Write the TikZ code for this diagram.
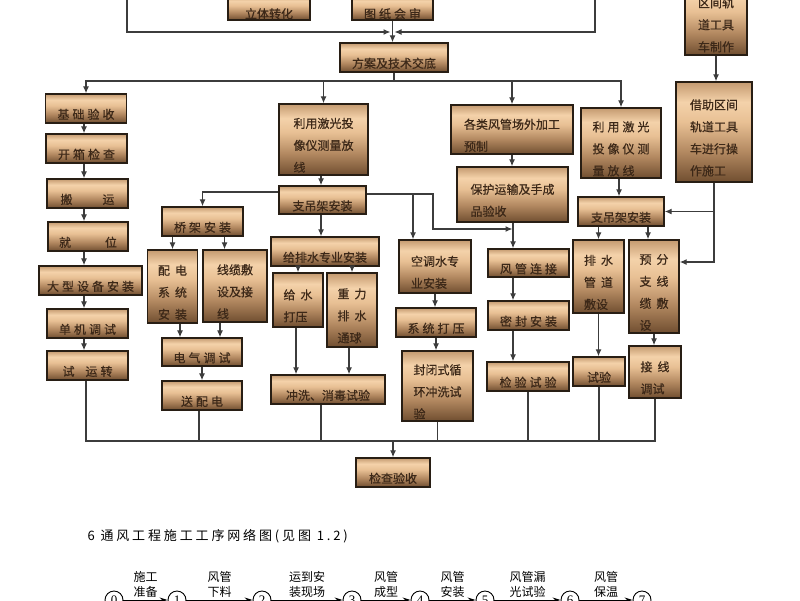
\documentclass[tikz,border=0pt]{standalone}
\usepackage{fontspec}
\setmainfont{Noto Sans CJK SC}
\newfontfamily\boxf{Noto Sans CJK SC}[FakeBold=0.6]
\newfontfamily\wide{Noto Sans CJK SC}[LetterSpace=25,FakeBold=0.6]
\newfontfamily\widet{Noto Sans CJK SC}[LetterSpace=22]
\newfontfamily\digit{Liberation Serif}
\usetikzlibrary{arrows.meta}
\definecolor{Bd}{RGB}{112, 78, 48}
\definecolor{Bm}{RGB}{178, 136, 96}
\definecolor{Bl}{RGB}{232, 192, 148}
\definecolor{Bw}{RGB}{244, 210, 170}
\definecolor{Bt}{RGB}{196, 154, 112}
\definecolor{Bk}{RGB}{40, 30, 20}
\definecolor{Tx}{RGB}{60, 40, 24}
\definecolor{Ln}{RGB}{60, 60, 60}
\pgfdeclareverticalshading{boxfill}{100bp}{color(0bp)=(Bd); color(25bp)=(Bd); color(40bp)=(Bm); color(55bp)=(Bl); color(65bp)=(Bw); color(75bp)=(Bt); color(100bp)=(Bt)}
% box texts, lowered a little like in the scan
\newcommand{\bt}[1]{\raisebox{-6pt}[\height][\depth]{\begin{tabular}{@{}c@{}}#1\end{tabular}}}
\newcommand{\btl}[1]{\raisebox{-6pt}[\height][\depth]{\begin{tabular}{@{}l@{}}#1\end{tabular}}}
\newcommand{\gp}{\hspace{5pt}}

\begin{document}
\begin{tikzpicture}[x=1pt,y=-1pt,
    box/.style={draw=Bk, line width=1.4pt, shading=boxfill, inner sep=0pt, text=Tx, font=\boxf\fontsize{12}{22}\selectfont},
    ln/.style={draw=Ln, line width=1.2pt},
    arr/.style={ln, -{Latex[length=7pt,width=6pt]}},
    circ/.style={circle, draw, line width=0.9pt, minimum size=18pt, inner sep=0pt, font=\digit\fontsize{13}{13}\selectfont},
    narr/.style={line width=1pt, -{Stealth[length=8pt,width=5pt]}},
    lab/.style={above, align=center, inner sep=2pt, font=\fontsize{12}{15}\selectfont}]
  \useasboundingbox (0,0) rectangle (800,600);

  % top part
  \node[box, minimum width=82, minimum height=24] (ltzh) at (269,8) {\bt{立体转化}};
  \node[box, minimum width=81, minimum height=24] (tzhs) at (392.5,8) {\bt{\wide 图纸会审}};
  \node[box, minimum width=108, minimum height=29] (fa) at (394,57.5) {\bt{方案及技术交底}};
  \node[box, minimum width=62, minimum height=72] (qjgz) at (716,19) {\bt{区间轨\\道工具\\车制作}};
  \node[box, minimum width=76, minimum height=100] (jzqj) at (714,132) {\btl{借助区间\\轨道工具\\车进行操\\作施工}};

  % left column
  \node[box, minimum width=81, minimum height=29] (jcys) at (86,108.5) {\bt{\wide 基础验收}};
  \node[box, minimum width=81, minimum height=29] (kxjc) at (86.5,148.5) {\bt{\wide 开箱检查}};
  \node[box, minimum width=81, minimum height=29] (by) at (87.5,193.5) {\bt{搬\hspace{30pt}运}};
  \node[box, minimum width=80, minimum height=29] (jw) at (88,236.5) {\bt{就\hspace{34pt}位}};
  \node[box, minimum width=103, minimum height=29] (dxsb) at (90.5,280.5) {\bt{\wide 大型设备安装}};
  \node[box, minimum width=81, minimum height=29] (djts) at (87.5,323.5) {\bt{\wide 单机调试}};
  \node[box, minimum width=81, minimum height=29] (syz) at (87.5,365.5) {\bt{试\hspace{11pt}运\hspace{3pt}转}};

  % electrical
  \node[box, minimum width=81, minimum height=29] (qjaz) at (202.5,221.5) {\bt{\wide 桥架安装}};
  \node[box, minimum width=50, minimum height=73] (pdxt) at (172.5,286.5) {\bt{配\gp 电\\系\gp 统\\安\gp 装}};
  \node[box, minimum width=64, minimum height=72] (xlfs) at (235,286) {\btl{线缆敷\\设及接\\线}};
  \node[box, minimum width=80, minimum height=28] (dqts) at (202,352) {\bt{\wide 电气调试}};
  \node[box, minimum width=80, minimum height=29] (spd) at (202,395.5) {\bt{\wide 送配电}};

  % water
  \node[box, minimum width=89, minimum height=71] (jg1) at (323.5,139.5) {\btl{利用激光投\\像仪测量放\\线}};
  \node[box, minimum width=87, minimum height=28] (zdj1) at (322.5,200) {\bt{支吊架安装}};
  \node[box, minimum width=108, minimum height=29] (gps) at (325,251.5) {\bt{给排水专业安装}};
  \node[box, minimum width=50, minimum height=54] (gsdy) at (298,300) {\btl{给\gp 水\\打压}};
  \node[box, minimum width=50, minimum height=74] (zlps) at (352,310) {\btl{重\gp 力\\排\gp 水\\通球}};
  \node[box, minimum width=114, minimum height=29] (cxxd) at (328,389.5) {\bt{冲洗、消毒试验}};
  \node[box, minimum width=72, minimum height=53] (kts) at (435,266.5) {\btl{空调水专\\业安装}};
  \node[box, minimum width=80, minimum height=29] (xtdy) at (436,322.5) {\bt{\wide 系统打压}};
  \node[box, minimum width=71, minimum height=70] (fbxh) at (437.5,386) {\btl{封闭式循\\环冲洗试\\验}};

  % ducts
  \node[box, minimum width=122, minimum height=49] (gfg) at (512,129.5) {\btl{各类风管场外加工\\预制}};
  \node[box, minimum width=111, minimum height=55] (bhys) at (512.5,194.5) {\btl{保护运输及手成\\品验收}};
  \node[box, minimum width=81, minimum height=28] (fglj) at (528.5,263) {\bt{\wide 风管连接}};
  \node[box, minimum width=81, minimum height=29] (mfaz) at (528.5,315.5) {\bt{\wide 密封安装}};
  \node[box, minimum width=82, minimum height=29] (jysy) at (528,376.5) {\bt{\wide 检验试验}};

  % right part
  \node[box, minimum width=80, minimum height=70] (jg2) at (621,143) {\btl{\wide 利用激光\\\wide 投像仪测\\\wide 量放线}};
  \node[box, minimum width=86, minimum height=29] (zdj2) at (621,211.5) {\bt{支吊架安装}};
  \node[box, minimum width=51, minimum height=73] (psgd) at (598.5,276.5) {\btl{排\gp 水\\管\gp 道\\敷设}};
  \node[box, minimum width=50, minimum height=93] (yfzx) at (654,286.5) {\btl{预\gp 分\\支\gp 线\\缆\gp 敷\\设}};
  \node[box, minimum width=52, minimum height=29] (sy2) at (599,371.5) {\bt{试验}};
  \node[box, minimum width=52, minimum height=52] (jxts) at (655,372) {\btl{接\gp 线\\调试}};

  \node[box, minimum width=74, minimum height=29] (jcys2) at (393,472.5) {\bt{检查验收}};

  % connectors on top
  \coordinate (tl) at (127,-5);
  \coordinate (tr) at (595,-5);
  \coordinate (jn) at (392.5,32);
  \coordinate (bus) at (394,81);
  \draw[arr] (tl) |- ([xshift=-2pt]jn);
  \draw[arr] (tr) |- ([xshift=2pt]jn);
  \draw[arr] (tzhs.south) -- (tzhs.south |- fa.north);
  \draw[ln] (fa.south) -- (bus);
  \draw[arr] (bus) -| (jcys.north);
  \draw[arr] (bus) -| (jg1.north);
  \draw[arr] (bus) -| (gfg.north);
  \draw[arr] (bus) -| (jg2.north);
  \draw[arr] (qjgz.south) -- (qjgz.south |- jzqj.north);

  % left column
  \coordinate (lc) at (84,0);
  \draw[arr] (jcys.south -| lc) -- (kxjc.north -| lc);
  \draw[arr] (kxjc.south -| lc) -- (by.north -| lc);
  \draw[arr] (by.south -| lc) -- (jw.north -| lc);
  \draw[arr] (jw.south -| lc) -- (dxsb.north -| lc);
  \draw[arr] (dxsb.south -| lc) -- (djts.north -| lc);
  \draw[arr] (djts.south -| lc) -- (syz.north -| lc);

  % from the middle hanger box
  \coordinate (mc) at (321,0);
  \coordinate (k0) at (413,194);
  \coordinate (k1) at (433,194);
  \coordinate (k2) at (433,229);
  \draw[arr] (jg1.south -| mc) -- (zdj1.north -| mc);
  \draw[arr] ([yshift=8pt]zdj1.west) -| (qjaz.north);
  \draw[arr] ([yshift=6pt]zdj1.east) -- (k1) -- (k2) -- (k2 -| bhys.south);
  \draw[arr] (k0) -- (k0 |- kts.north);
  \draw[arr] (zdj1.south -| mc) -- (gps.north -| mc);

  % electrical
  \draw[arr] (qjaz.south -| pdxt.north) -- (pdxt.north);
  \draw[arr] ([xshift=22pt]qjaz.south) -- ([xshift=22pt]qjaz.south |- xlfs.north);
  \draw[arr] ([xshift=-22pt]dqts.north |- pdxt.south) -- ([xshift=-22pt]dqts.north);
  \draw[arr] ([xshift=18pt]dqts.north |- xlfs.south) -- ([xshift=18pt]dqts.north);
  \draw[arr] (dqts.south) -- (spd.north);

  % water
  \draw[arr] (gps.south -| gsdy.north) -- (gsdy.north);
  \draw[arr] (gps.south -| zlps.north) -- (zlps.north);
  \draw[arr] ([xshift=-2pt]gsdy.south) -- ([xshift=-2pt]gsdy.south |- cxxd.north);
  \draw[arr] ([xshift=-3pt]zlps.south) -- ([xshift=-3pt]zlps.south |- cxxd.north);
  \draw[arr] (kts.south) -- (kts.south |- xtdy.north);
  \draw[arr] (xtdy.south) -- (xtdy.south |- fbxh.north);

  % ducts
  \coordinate (fc) at (513,0);
  \draw[arr] (gfg.south) -- (gfg.south |- bhys.north);
  \draw[arr] (bhys.south -| fc) -- (fglj.north -| fc);
  \draw[arr] (fglj.south -| fc) -- (mfaz.north -| fc);
  \draw[arr] (mfaz.south -| fc) -- (jysy.north -| fc);

  % right part
  \draw[arr] ([xshift=-2pt]jg2.south) -- ([xshift=-2pt]jg2.south |- zdj2.north);
  \draw[arr] (jzqj.south) |- (zdj2.east);
  \draw[arr] (jzqj.south) |- ([yshift=24.5pt]yfzx.east);
  \draw[arr] (zdj2.south -| psgd.north) -- (psgd.north);
  \draw[arr] ([xshift=-6pt]yfzx.north |- zdj2.south) -- ([xshift=-6pt]yfzx.north);
  \draw[arr] (psgd.south) -- (psgd.south |- sy2.north);
  \draw[arr] (yfzx.south) -- (yfzx.south |- jxts.north);

  % everything to the final check
  \coordinate (bot) at (393,441);
  \draw[ln] ([xshift=-1.5pt]syz.south) |- (bot);
  \draw[ln] ([xshift=-3pt]spd.south) |- (bot);
  \draw[ln] ([xshift=-7pt]cxxd.south) |- (bot);
  \draw[ln] (fbxh.south) |- (bot);
  \draw[ln] (jysy.south) |- (bot);
  \draw[ln] (sy2.south) |- (bot);
  \draw[ln] (jxts.south) |- (bot);
  \draw[arr] (bot) -- (jcys2.north);

  % network of the ventilation work
  \node[anchor=west, font=\widet\fontsize{13}{13}\selectfont] (title) at (84,536) {6 通风工程施工工序网络图(见图 1.2)};
  \node[circ] (n0) at (114,600) {0};
  \node[circ] (n1) at (177,600) {1};
  \node[circ] (n2) at (262,600) {2};
  \node[circ] (n3) at (352,600) {3};
  \node[circ] (n4) at (420,600) {4};
  \node[circ] (n5) at (485,600) {5};
  \node[circ] (n6) at (570,600) {6};
  \node[circ] (n7) at (642,600) {7};
  \draw[narr] (n0) -- node[lab] (w1) {施工\\准备} (n1);
  \draw[narr] (n1) -- node[lab] (w2) {风管\\下料} (n2);
  \draw[narr] (n2) -- node[lab] (w3) {运到安\\装现场} (n3);
  \draw[narr] (n3) -- node[lab] (w4) {风管\\成型} (n4);
  \draw[narr] (n4) -- node[lab] (w5) {风管\\安装} (n5);
  \draw[narr] (n5) -- node[lab] (w6) {风管漏\\光试验} (n6);
  \draw[narr] (n6) -- node[lab] (w7) {风管\\保温} (n7);
\end{tikzpicture}
\end{document}
